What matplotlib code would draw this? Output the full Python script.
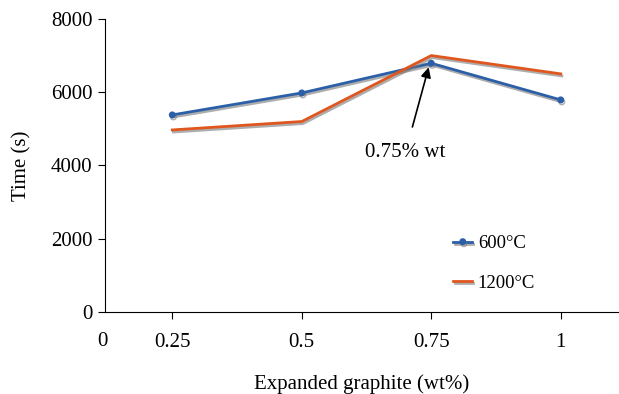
import matplotlib.pyplot as plt
import matplotlib.patheffects as pe

# data
graphite = [0.25, 0.5, 0.75, 1.0]
tick_labels = ["0.25", "0.5", "0.75", "1"]
time_600 = [5380, 5980, 6790, 5790]
time_1200 = [4970, 5200, 7000, 6500]

plt.rcParams["font.family"] = ["Liberation Serif", "DejaVu Serif"]
plt.rcParams["font.size"] = 15

fig = plt.figure(figsize=(6.19, 3.94), dpi=100)
ax = fig.add_axes([0.1696, 0.208, 0.8304, 0.744])

shadow = [pe.SimpleLineShadow(offset=(0.8, -1.5), shadow_color="#777777", alpha=0.6), pe.Normal()]

ax.plot(graphite, time_600, color="#2b5fa8", lw=2, marker="o", ms=4,
        label="600°C", path_effects=shadow)
ax.plot(graphite, time_1200, color="#e0561f", lw=2,
        label="1200°C", path_effects=shadow)

ax.set_xlim(0.12, 1.1125)
ax.set_ylim(0, 8000)
ax.set_yticks([0, 2000, 4000, 6000, 8000])
ax.set_xticks(graphite)
ax.set_xticklabels(tick_labels)
ax.tick_params(axis="x", direction="out", length=5, pad=10)
ax.tick_params(axis="y", direction="out", length=5, pad=4)
ax.text(-0.005, -0.1, "0", transform=ax.transAxes, ha="center", va="center", fontsize=15)

for side in ["top", "right"]:
    ax.spines[side].set_visible(False)

ax.set_xlabel("Expanded graphite (wt%)", labelpad=16)
ax.set_ylabel("Time (s)", labelpad=14)

ax.annotate("0.75% wt", xy=(0.745, 6680), xytext=(0.70, 4350),
            ha="center", va="center", fontsize=15,
            arrowprops=dict(arrowstyle="-|>", color="black", lw=1.2, shrinkA=10, shrinkB=0))

ax.legend(loc="upper left", bbox_to_anchor=(0.645, 0.32), frameon=False,
          handlelength=1.0, handletextpad=0.3, labelspacing=1.2, fontsize=13.5)

fig.savefig("out.png", dpi=100)
